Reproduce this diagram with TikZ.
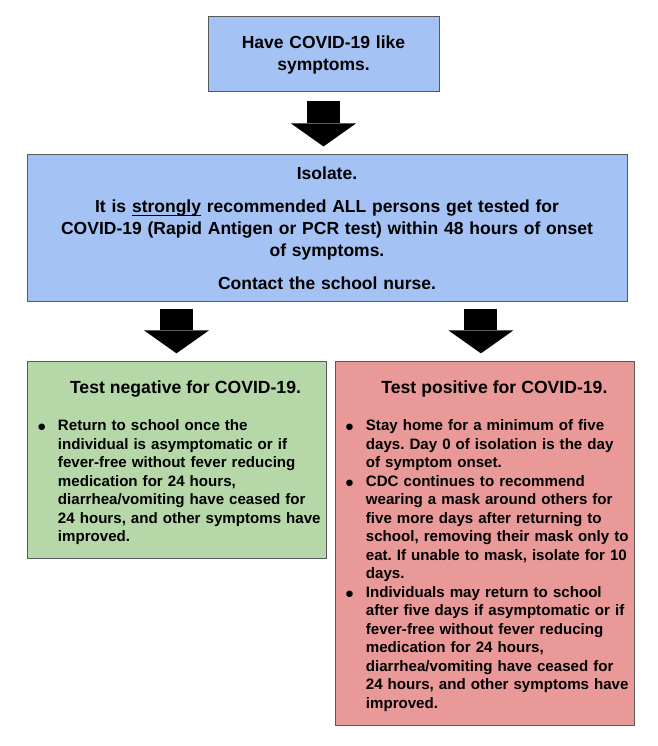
\documentclass[tikz,border=0pt]{standalone}
\usepackage{fontspec}
\setmainfont{Liberation Sans}
\newfontfamily\dotfont{DejaVu Sans}
\usetikzlibrary{positioning,arrows.meta}
\frenchspacing

\definecolor{isoblue}{HTML}{A4C2F4}
\definecolor{neggreen}{HTML}{B6D7A8}
\definecolor{posred}{HTML}{EA9999}
\definecolor{edgegray}{HTML}{595959}

% underlined word
\newsavebox{\undlbox}
\newcommand{\undl}[1]{\sbox{\undlbox}{#1}\rlap{\rule[-2.8pt]{\wd\undlbox}{1.2pt}}\usebox{\undlbox}}
% title line of a result box, a bit right of centre
\newcommand{\boxtitle}[1]{\noindent\hskip-\leftskip\hbox to\hsize{\hfil\hspace{18pt}{\fontsize{17.6}{22}\selectfont\rule{0pt}{17.7pt}#1}\hfil}\par\vspace{18.5pt}}
% bullet paragraph with hanging indent
\newcommand{\bitem}[1]{\par\hangindent=20pt\hangafter=1\noindent\makebox[20pt][l]{\raisebox{0.6pt}{\dotfont\fontsize{8.5}{8.5}\selectfont ●}}#1\par}

\begin{document}
\begin{tikzpicture}[
    x=1pt, y=-1pt,
    topbox/.style={rectangle, draw=edgegray, line width=0.9pt, fill=isoblue, minimum width=231pt, minimum height=75pt, text width=211pt, align=center, font=\fontsize{17.5}{22}\selectfont\bfseries},
    isobox/.style={rectangle, draw=edgegray, line width=0.9pt, fill=isoblue, minimum width=600pt, minimum height=147pt, text width=580pt, align=center, font=\fontsize{17.5}{22}\selectfont\bfseries},
    listbox/.style={rectangle, draw=edgegray, line width=0.9pt, text width=299pt, inner xsep=0pt, inner ysep=14pt, align=left, font=\fontsize{15.1}{18.5}\selectfont\bfseries},
    fatarrow/.style={line width=33pt, -{Triangle[width=65pt, length=23pt, line width=0pt]}, shorten <=7pt, shorten >=8pt}
]
    \useasboundingbox (0,0) rectangle (657,746);

    % Symptoms
    \node[topbox] (have) at (323.5,53.5) {\rule{0pt}{15.6pt}Have COVID-19 like\\symptoms.};

    % Isolate
    \node[isobox, below=63pt of have, xshift=3.5pt] (iso) {Isolate.\\[11.5pt]
        It is \undl{strongly} recommended ALL persons get tested for\\
        COVID-19 (Rapid Antigen or PCR test) within 48 hours of onset\\
        of symptoms.\\[11pt]
        Contact the school nurse.};

    % Test results
    \node[listbox, fill=neggreen, below=59pt of iso.south west, anchor=north west] (neg) {%
        \leftskip=11pt\rightskip=-20pt plus 1fil
        \boxtitle{Test negative for COVID-19.}
        \bitem{Return to school once the\newline
            individual is asymptomatic or if\newline
            fever-free without fever reducing\newline
            medication for 24 hours,\newline
            diarrhea/vomiting have ceased for\newline
            24 hours, and other symptoms have\newline
            improved.}};
    \node[listbox, fill=posred, right=9pt of neg.north east, anchor=north west] (pos) {%
        \leftskip=10pt\rightskip=-20pt plus 1fil
        \boxtitle{Test positive for COVID-19.}
        \bitem{Stay home for a minimum of five\newline
            days. Day 0 of isolation is the day\newline
            of symptom onset.}
        \bitem{CDC continues to recommend\newline
            wearing a mask around others for\newline
            five more days after returning to\newline
            school, removing their mask only to\newline
            eat. If unable to mask, isolate for 10\newline
            days.}
        \bitem{Individuals may return to school\newline
            after five days if asymptomatic or if\newline
            fever-free without fever reducing\newline
            medication for 24 hours,\newline
            diarrhea/vomiting have ceased for\newline
            24 hours, and other symptoms have\newline
            improved.}};
    \coordinate[xshift=-4.5pt] (postop) at (pos.north);

    % Arrows
    \draw[fatarrow, shorten <=10pt] (have.south) -- (have.south |- iso.north);
    \draw[fatarrow] (iso.south -| neg.north) -- (neg.north);
    \draw[fatarrow] (iso.south -| postop) -- (postop);
\end{tikzpicture}
\end{document}
